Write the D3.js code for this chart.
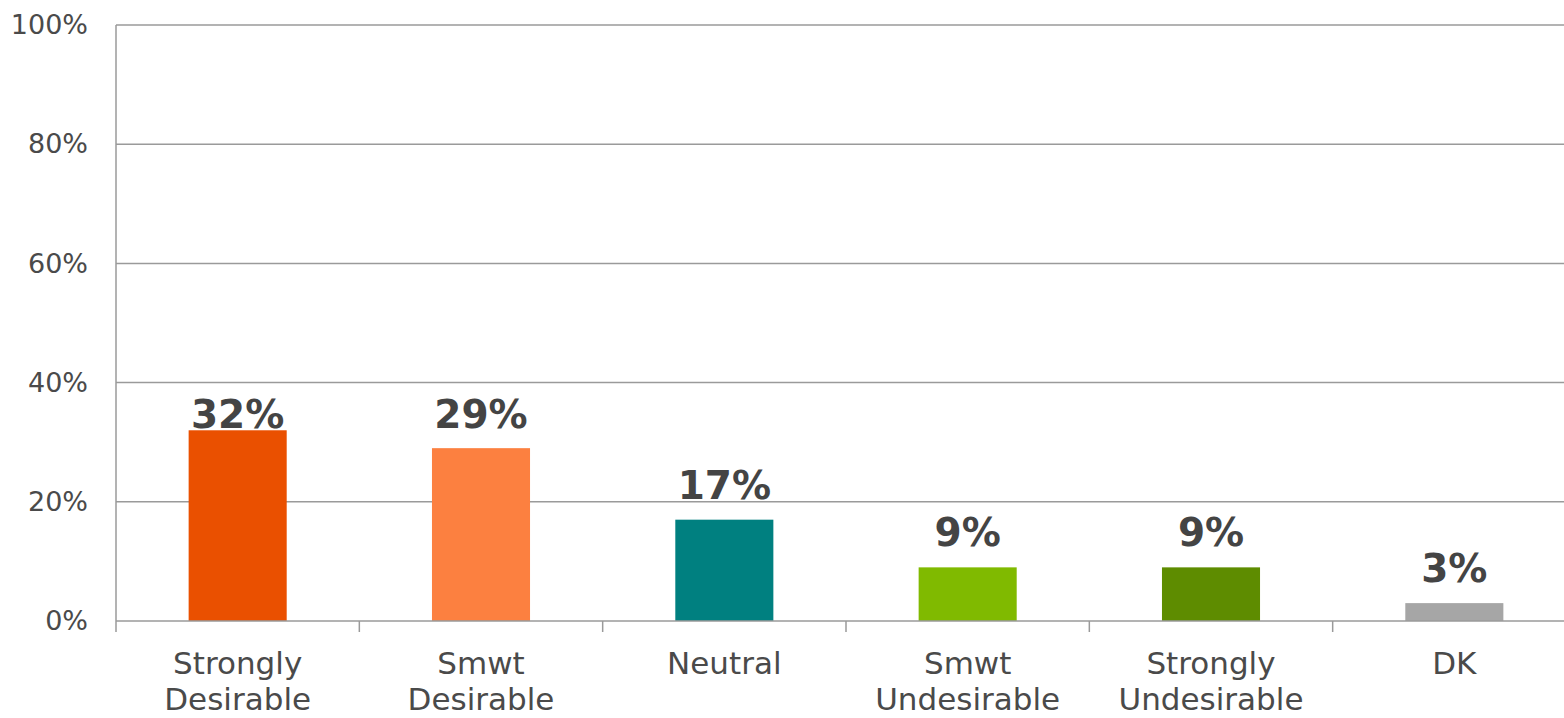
<!DOCTYPE html>
<html>
<head>
<meta charset="utf-8">
<script src="https://cdn.jsdelivr.net/npm/d3@7"></script>
<style>
  html, body { margin: 0; padding: 0; background: #fff; }
  svg { display: block; font-family: "DejaVu Sans", Verdana, sans-serif; }
</style>
</head>
<body>
<svg id="chart" width="1564" height="718"></svg>
<script>
// Survey responses: share of respondents per answer
const categories = [
  ["Strongly", "Desirable"],
  ["Smwt", "Desirable"],
  ["Neutral"],
  ["Smwt", "Undesirable"],
  ["Strongly", "Undesirable"],
  ["DK"]
];
const values = [0.32, 0.29, 0.17, 0.09, 0.09, 0.03];
const valueLabels = ["32%", "29%", "17%", "9%", "9%", "3%"];
const barColors = ["#EA5000", "#FC8040", "#008080", "#80BA00", "#5E8C00", "#A6A6A6"];
const yTicks = [0, 0.2, 0.4, 0.6, 0.8, 1.0];

const svg = d3.select("#chart");
// the plot area runs slightly past the right edge of the canvas
const plotLeft = 116, plotRight = 1576, plotTop = 25, plotBottom = 621;
const gridColor = "#9a9a9a";
const textColor = "#4a4a4a";

const keys = categories.map((c, i) => i);
const x = d3.scaleBand().domain(keys).range([plotLeft, plotRight])
  .paddingInner(0.597).paddingOuter(0.2985);
const y = d3.scaleLinear().domain([0, 1]).range([plotBottom, plotTop]);

// horizontal gridlines
svg.append("g").selectAll("line").data(yTicks.filter(t => t > 0)).join("line")
  .attr("x1", plotLeft).attr("x2", plotRight)
  .attr("y1", d => y(d)).attr("y2", d => y(d))
  .attr("stroke", gridColor).attr("stroke-width", 1.5);

// y axis labels
const yAxis = d3.axisLeft(y).tickValues(yTicks).tickSize(0).tickPadding(28)
  .tickFormat(d3.format(".0%"));
const gy = svg.append("g").attr("transform", `translate(${plotLeft},0)`).call(yAxis);
gy.select(".domain").remove();
gy.selectAll("text").attr("font-size", 27).attr("fill", textColor)
  .attr("font-family", "DejaVu Sans, Verdana, sans-serif");

// bars
svg.append("g").selectAll("rect").data(values).join("rect")
  .attr("x", (d, i) => x(i))
  .attr("width", x.bandwidth())
  .attr("y", d => y(d))
  .attr("height", d => y(0) - y(d))
  .attr("fill", (d, i) => barColors[i]);

// vertical axis line and baseline with category separators
svg.append("line").attr("x1", plotLeft).attr("x2", plotLeft).attr("y1", plotTop).attr("y2", plotBottom + 11)
  .attr("stroke", gridColor).attr("stroke-width", 1.5);
svg.append("line").attr("x1", plotLeft).attr("x2", plotRight).attr("y1", plotBottom).attr("y2", plotBottom)
  .attr("stroke", gridColor).attr("stroke-width", 1.5);
const step = x.step();
svg.append("g").selectAll("line").data(keys.slice(1)).join("line")
  .attr("x1", d => x(d) - x.paddingInner() * step / 2)
  .attr("x2", d => x(d) - x.paddingInner() * step / 2)
  .attr("y1", plotBottom).attr("y2", plotBottom + 11)
  .attr("stroke", gridColor).attr("stroke-width", 1.5);

// value labels above bars, kept below the 40% gridline
const labelFloor = y(0.4) + 45;
svg.append("g").selectAll("text").data(values).join("text")
  .attr("x", (d, i) => x(i) + x.bandwidth() / 2)
  .attr("y", d => Math.max(y(d) - 21, labelFloor))
  .attr("text-anchor", "middle")
  .attr("font-size", 39).attr("font-weight", "bold").attr("fill", "#444")
  .text((d, i) => valueLabels[i]);

// category labels
const cat = svg.append("g").selectAll("text").data(categories).join("text")
  .attr("x", (d, i) => x(i) + x.bandwidth() / 2)
  .attr("y", 674)
  .attr("text-anchor", "middle")
  .attr("font-size", 31).attr("fill", textColor);
cat.selectAll("tspan").data(d => d).join("tspan")
  .attr("x", function() { return this.parentNode.getAttribute("x"); })
  .attr("dy", (d, j) => j === 0 ? 0 : 36)
  .text(d => d);
</script>
</body>
</html>
